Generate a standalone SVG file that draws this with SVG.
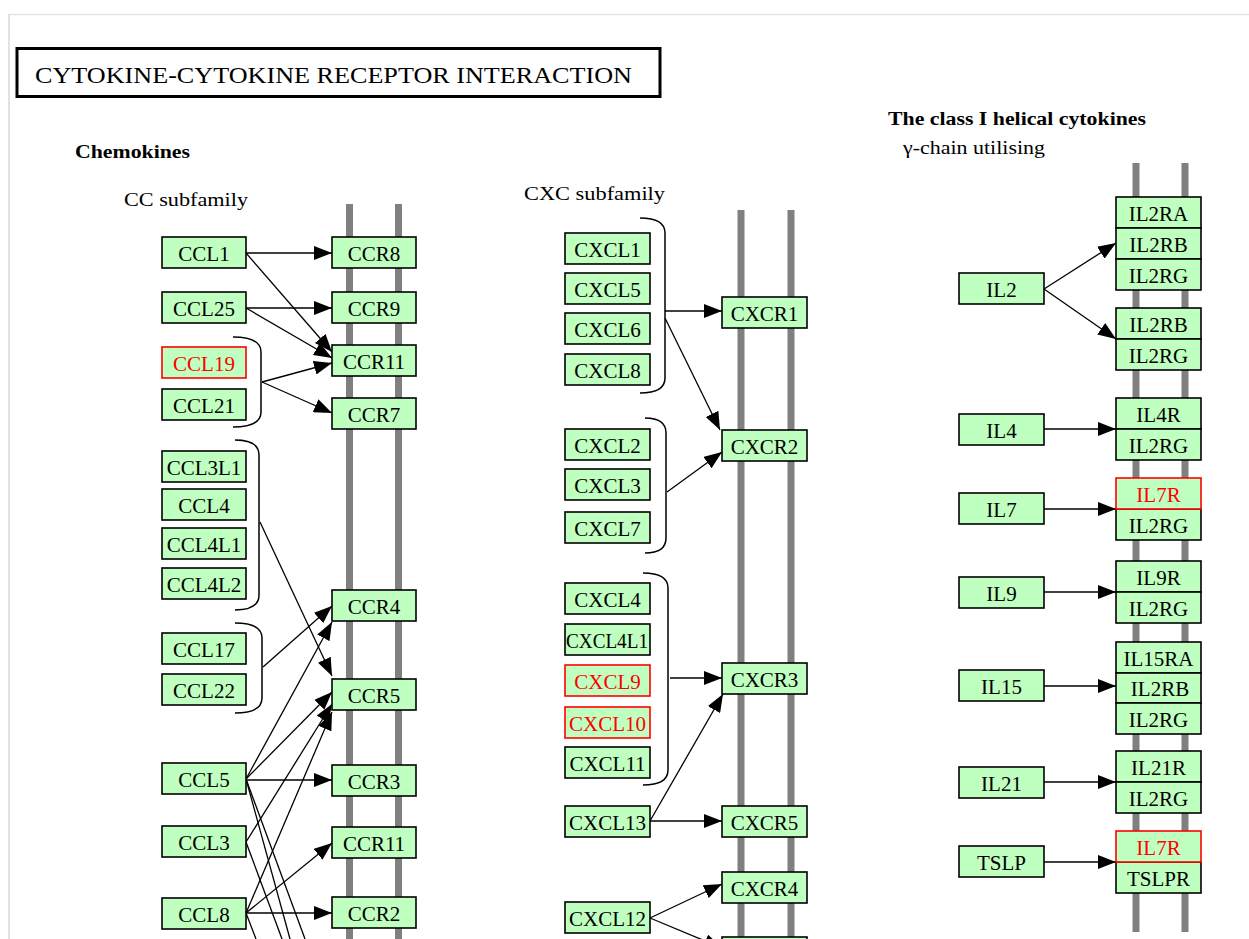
<svg xmlns="http://www.w3.org/2000/svg" width="1249" height="939" viewBox="0 0 1249 939">
<style>
.n rect{fill:#BFFFBF;stroke:#000;stroke-width:1.6}
.n.red rect{stroke:#FF0000}
.n text{font-family:"Liberation Serif",serif;font-size:21px;text-anchor:middle;fill:#000}
.n.red text{fill:#FF0000}
.bar{stroke:#808080;stroke-width:7}
.e{stroke:#000;stroke-width:1.3;fill:none}
.a{marker-end:url(#ah)}
.br{stroke:#000;stroke-width:1.5;fill:none}
.h{font-family:"Liberation Serif",serif;fill:#000}
</style>
<defs>
<marker id="ah" viewBox="0 0 18 14" refX="18" refY="7" markerWidth="18" markerHeight="14" orient="auto" markerUnits="userSpaceOnUse">
<path d="M0,0 L18,7 L0,14 z" fill="#000"/>
</marker>
</defs>
<rect width="1249" height="939" fill="#fff"/>
<g id="frame">
<line x1="9" y1="14.5" x2="1249" y2="14.5" stroke="#e4e4e4" stroke-width="1.5"/>
<line x1="9" y1="14" x2="9" y2="939" stroke="#d8d8d8" stroke-width="1.5"/>
</g>
<g id="title">
<rect x="17" y="48.5" width="643" height="48" fill="#fff" stroke="#000" stroke-width="3"/>
<text class="h" x="35" y="83" font-size="23" textLength="597" lengthAdjust="spacingAndGlyphs">CYTOKINE-CYTOKINE RECEPTOR INTERACTION</text>
</g>
<g id="headings">
<text class="h" x="75" y="158" font-size="18" font-weight="bold" textLength="115" lengthAdjust="spacingAndGlyphs">Chemokines</text>
<text class="h" x="124" y="206" font-size="19" textLength="124" lengthAdjust="spacingAndGlyphs">CC subfamily</text>
<text class="h" x="524" y="200" font-size="19" textLength="141" lengthAdjust="spacingAndGlyphs">CXC subfamily</text>
<text class="h" x="888" y="125" font-size="18" font-weight="bold" textLength="258" lengthAdjust="spacingAndGlyphs">The class I helical cytokines</text>
<text class="h" x="903" y="154" font-size="19" textLength="142" lengthAdjust="spacingAndGlyphs">γ-chain utilising</text>
</g>
<g id="membranes">
<line class="bar" x1="349.5" y1="204" x2="349.5" y2="939"/>
<line class="bar" x1="398.5" y1="204" x2="398.5" y2="939"/>
<line class="bar" x1="741" y1="210" x2="741" y2="939"/>
<line class="bar" x1="791" y1="210" x2="791" y2="939"/>
<line class="bar" x1="1136" y1="163" x2="1136" y2="932"/>
<line class="bar" x1="1185" y1="163" x2="1185" y2="932"/>
</g>
<g id="connectors">
<path class="br" d="M233,337 Q261,337 261,352 L261,412 Q261,427 233,427"/>
<path class="br" d="M235,440 Q259,440 259,455 L259,595 Q259,610 235,610"/>
<path class="br" d="M235,623 Q262,623 262,638 L262,698 Q262,713 235,713"/>
<path class="br" d="M640,218 Q665,218 665,233 L665,378 Q665,393 640,393"/>
<path class="br" d="M645,418 Q666,418 666,433 L666,538 Q666,553 645,553"/>
<path class="br" d="M643,573 Q668,573 668,588 L668,770 Q668,785 643,785"/>
<path class="e a" d="M246,253 L332,253"/>
<path class="e a" d="M246,253 L332,352"/>
<path class="e a" d="M246,308 L332,308"/>
<path class="e a" d="M246,308 L332,358"/>
<path class="e a" d="M262,382 L332,363"/>
<path class="e a" d="M262,382 L332,413"/>
<path class="e a" d="M260,522 L332,676"/>
<path class="e a" d="M263,667 L332,606"/>
<path class="e a" d="M246,779 L332,622"/>
<path class="e a" d="M246,779 L332,692"/>
<path class="e a" d="M246,842 L332,704"/>
<path class="e a" d="M246,913 L332,712"/>
<path class="e a" d="M246,780 L332,780"/>
<path class="e a" d="M246,913 L332,843"/>
<path class="e a" d="M246,913 L332,913"/>
<path class="e" d="M246,779 L290,939"/>
<path class="e" d="M246,779 L305,939"/>
<path class="e" d="M246,842 L282,939"/>
<path class="e" d="M246,913 L256,939"/>
<path class="e a" d="M665,311 L722,311"/>
<path class="e a" d="M665,318 L720,430"/>
<path class="e a" d="M667,492 L722,452"/>
<path class="e a" d="M670,678 L722,678"/>
<path class="e a" d="M650,821 L723,694"/>
<path class="e a" d="M650,821 L722,821"/>
<path class="e a" d="M650,918 L722,884"/>
<path class="e a" d="M650,918 L722,948"/>
<path class="e a" d="M1044,289 L1116,243"/>
<path class="e a" d="M1044,289 L1116,339"/>
<path class="e a" d="M1044,429 L1116,429"/>
<path class="e a" d="M1044,509 L1116,509"/>
<path class="e a" d="M1044,592 L1116,592"/>
<path class="e a" d="M1044,686 L1116,686"/>
<path class="e a" d="M1044,782 L1116,782"/>
<path class="e a" d="M1044,862 L1116,862"/>
</g>
<g id="CCL1" class="n"><rect x="162" y="237" width="84" height="31"/><text x="204" y="261">CCL1</text></g>
<g id="CCL25" class="n"><rect x="162" y="292" width="84" height="31"/><text x="204" y="316">CCL25</text></g>
<g id="CCL19" class="n red"><rect x="162" y="347" width="84" height="31"/><text x="204" y="371">CCL19</text></g>
<g id="CCL21" class="n"><rect x="162" y="389" width="84" height="31"/><text x="204" y="413">CCL21</text></g>
<g id="CCL3L1" class="n"><rect x="162" y="451" width="84" height="31"/><text x="204" y="475">CCL3L1</text></g>
<g id="CCL4" class="n"><rect x="162" y="489" width="84" height="31"/><text x="204" y="513">CCL4</text></g>
<g id="CCL4L1" class="n"><rect x="162" y="528" width="84" height="31"/><text x="204" y="552">CCL4L1</text></g>
<g id="CCL4L2" class="n"><rect x="162" y="568" width="84" height="31"/><text x="204" y="592">CCL4L2</text></g>
<g id="CCL17" class="n"><rect x="162" y="633" width="84" height="31"/><text x="204" y="657">CCL17</text></g>
<g id="CCL22" class="n"><rect x="162" y="674" width="84" height="31"/><text x="204" y="698">CCL22</text></g>
<g id="CCL5" class="n"><rect x="162" y="763" width="84" height="31"/><text x="204" y="787">CCL5</text></g>
<g id="CCL3" class="n"><rect x="162" y="826" width="84" height="31"/><text x="204" y="850">CCL3</text></g>
<g id="CCL8" class="n"><rect x="162" y="898" width="84" height="31"/><text x="204" y="922">CCL8</text></g>
<g id="CCR8" class="n"><rect x="332" y="237" width="84" height="31"/><text x="374" y="261">CCR8</text></g>
<g id="CCR9" class="n"><rect x="332" y="292" width="84" height="31"/><text x="374" y="316">CCR9</text></g>
<g id="CCR11a" class="n"><rect x="332" y="345" width="84" height="31"/><text x="374" y="369">CCR11</text></g>
<g id="CCR7" class="n"><rect x="332" y="398" width="84" height="31"/><text x="374" y="422">CCR7</text></g>
<g id="CCR4" class="n"><rect x="332" y="590" width="84" height="31"/><text x="374" y="614">CCR4</text></g>
<g id="CCR5" class="n"><rect x="332" y="679" width="84" height="31"/><text x="374" y="703">CCR5</text></g>
<g id="CCR3" class="n"><rect x="332" y="765" width="84" height="31"/><text x="374" y="789">CCR3</text></g>
<g id="CCR11b" class="n"><rect x="332" y="827" width="84" height="31"/><text x="374" y="851">CCR11</text></g>
<g id="CCR2" class="n"><rect x="332" y="897" width="84" height="31"/><text x="374" y="921">CCR2</text></g>
<g id="CXCL1" class="n"><rect x="565" y="233" width="85" height="31"/><text x="607.5" y="257">CXCL1</text></g>
<g id="CXCL5" class="n"><rect x="565" y="273" width="85" height="31"/><text x="607.5" y="297">CXCL5</text></g>
<g id="CXCL6" class="n"><rect x="565" y="313" width="85" height="31"/><text x="607.5" y="337">CXCL6</text></g>
<g id="CXCL8" class="n"><rect x="565" y="354" width="85" height="31"/><text x="607.5" y="378">CXCL8</text></g>
<g id="CXCL2" class="n"><rect x="565" y="429" width="85" height="31"/><text x="607.5" y="453">CXCL2</text></g>
<g id="CXCL3" class="n"><rect x="565" y="469" width="85" height="31"/><text x="607.5" y="493">CXCL3</text></g>
<g id="CXCL7" class="n"><rect x="565" y="512" width="85" height="31"/><text x="607.5" y="536">CXCL7</text></g>
<g id="CXCL4" class="n"><rect x="565" y="583" width="85" height="31"/><text x="607.5" y="607">CXCL4</text></g>
<g id="CXCL4L1" class="n"><rect x="565" y="624" width="85" height="31"/><text x="607" y="648" textLength="82" lengthAdjust="spacingAndGlyphs">CXCL4L1</text></g>
<g id="CXCL9" class="n red"><rect x="565" y="665" width="85" height="31"/><text x="607.5" y="689">CXCL9</text></g>
<g id="CXCL10" class="n red"><rect x="565" y="707" width="85" height="31"/><text x="607.5" y="731">CXCL10</text></g>
<g id="CXCL11" class="n"><rect x="565" y="747" width="85" height="31"/><text x="607.5" y="771">CXCL11</text></g>
<g id="CXCL13" class="n"><rect x="565" y="806" width="85" height="31"/><text x="607.5" y="830">CXCL13</text></g>
<g id="CXCL12" class="n"><rect x="565" y="902" width="85" height="31"/><text x="607.5" y="926">CXCL12</text></g>
<g id="CXCR1" class="n"><rect x="722" y="297" width="85" height="31"/><text x="764.5" y="321">CXCR1</text></g>
<g id="CXCR2" class="n"><rect x="722" y="430" width="85" height="31"/><text x="764.5" y="454">CXCR2</text></g>
<g id="CXCR3" class="n"><rect x="722" y="663" width="85" height="31"/><text x="764.5" y="687">CXCR3</text></g>
<g id="CXCR5" class="n"><rect x="722" y="806" width="85" height="31"/><text x="764.5" y="830">CXCR5</text></g>
<g id="CXCR4" class="n"><rect x="722" y="872" width="85" height="31"/><text x="764.5" y="896">CXCR4</text></g>
<g id="CXCR_cut" class="n"><rect x="722" y="937" width="85" height="31"/></g>
<g id="IL2" class="n"><rect x="959" y="273" width="85" height="31"/><text x="1001.5" y="297">IL2</text></g>
<g id="IL4" class="n"><rect x="959" y="414" width="85" height="31"/><text x="1001.5" y="438">IL4</text></g>
<g id="IL7" class="n"><rect x="959" y="493" width="85" height="31"/><text x="1001.5" y="517">IL7</text></g>
<g id="IL9" class="n"><rect x="959" y="577" width="85" height="31"/><text x="1001.5" y="601">IL9</text></g>
<g id="IL15" class="n"><rect x="959" y="670" width="85" height="31"/><text x="1001.5" y="694">IL15</text></g>
<g id="IL21" class="n"><rect x="959" y="767" width="85" height="31"/><text x="1001.5" y="791">IL21</text></g>
<g id="TSLP" class="n"><rect x="959" y="846" width="85" height="31"/><text x="1001.5" y="870">TSLP</text></g>
<g id="IL2RA" class="n"><rect x="1116" y="197" width="85" height="31"/><text x="1158.5" y="221">IL2RA</text></g>
<g id="IL2RB_a" class="n"><rect x="1116" y="228" width="85" height="31"/><text x="1158.5" y="252">IL2RB</text></g>
<g id="IL2RG_a" class="n"><rect x="1116" y="259" width="85" height="31"/><text x="1158.5" y="283">IL2RG</text></g>
<g id="IL2RB_b" class="n"><rect x="1116" y="308" width="85" height="31"/><text x="1158.5" y="332">IL2RB</text></g>
<g id="IL2RG_b" class="n"><rect x="1116" y="339" width="85" height="31"/><text x="1158.5" y="363">IL2RG</text></g>
<g id="IL4R" class="n"><rect x="1116" y="398" width="85" height="31"/><text x="1158.5" y="422">IL4R</text></g>
<g id="IL2RG_c" class="n"><rect x="1116" y="429" width="85" height="31"/><text x="1158.5" y="453">IL2RG</text></g>
<g id="IL2RG_d" class="n"><rect x="1116" y="509" width="85" height="31"/><text x="1158.5" y="533">IL2RG</text></g>
<g id="IL7R_a" class="n red"><rect x="1116" y="478" width="85" height="31"/><text x="1158.5" y="502">IL7R</text></g>
<g id="IL9R" class="n"><rect x="1116" y="561" width="85" height="31"/><text x="1158.5" y="585">IL9R</text></g>
<g id="IL2RG_e" class="n"><rect x="1116" y="592" width="85" height="31"/><text x="1158.5" y="616">IL2RG</text></g>
<g id="IL15RA" class="n"><rect x="1116" y="642" width="85" height="31"/><text x="1158.5" y="666">IL15RA</text></g>
<g id="IL2RB_c" class="n"><rect x="1116" y="673" width="85" height="30"/><text x="1160" y="696">IL2RB</text></g>
<g id="IL2RG_f" class="n"><rect x="1116" y="703" width="85" height="31"/><text x="1158.5" y="727">IL2RG</text></g>
<g id="IL21R" class="n"><rect x="1116" y="751" width="85" height="31"/><text x="1158.5" y="775">IL21R</text></g>
<g id="IL2RG_g" class="n"><rect x="1116" y="782" width="85" height="31"/><text x="1158.5" y="806">IL2RG</text></g>
<g id="TSLPR" class="n"><rect x="1116" y="862" width="85" height="31"/><text x="1158.5" y="886">TSLPR</text></g>
<g id="IL7R_b" class="n red"><rect x="1116" y="831" width="85" height="31"/><text x="1158.5" y="855">IL7R</text></g>
</svg>
